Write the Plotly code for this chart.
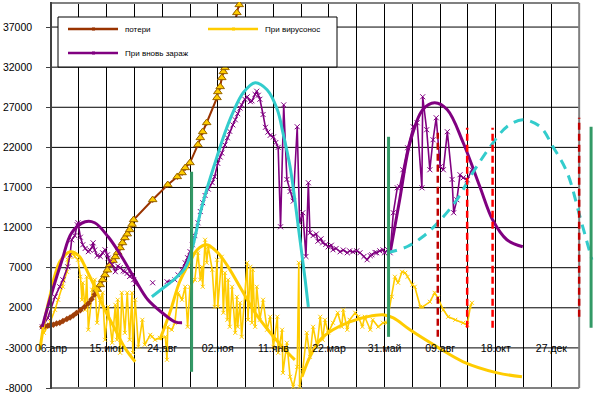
import plotly.graph_objects as go

# ---------------- data (day offset from 06.04.2020, value) ----------------
x_tick_days = list(range(0, 631, 35))
x_tick_labels = ["06.апр", "", "15.июн", "", "24.авг", "", "02.ноя", "", "11.янв", "",
                 "22.мар", "", "31.май", "", "09.авг", "", "18.окт", "", "27.дек"]
y_tick_vals = [-8000, -3000, 2000, 7000, 12000, 17000, 22000, 27000, 32000, 37000]

# потери
loss_day = [-11, -8, -4, -1, 3, 7, 11, 15, 20, 24, 28, 32, 37, 42, 47, 51, 55, 58, 62, 65, 68, 71, 74,
            78, 81, 84, 87, 90, 93, 96, 99, 102, 104, 128, 147, 159, 165, 169, 175, 185, 188, 191, 196,
            209, 210, 213, 215, 217, 219, 224, 229, 234, 237, 240]
loss_val = [-370, -300, -250, -200, -100, 50, 150, 350, 600, 800, 1050, 1350, 1700, 2100, 2550, 3050,
            3650, 4300, 4870, 5500, 6110, 6700, 7360, 7900, 8360, 8900, 9480, 10100, 10730, 11200, 11730,
            12400, 12970, 15470, 17340, 18340, 18830, 19460, 20080, 22330, 23200, 23950, 25070, 28190,
            28930, 29560, 30680, 31430, 31930, 34170, 36050, 38790, 39780, 41000]

# При вирусонос
vir_day = [-9, -1, 5, 9, 15, 20, 21, 24, 28, 30, 34, 37, 39, 40, 43, 45, 47, 52, 55, 58, 62, 65, 68, 72,
           77, 81, 83, 84, 87, 89, 93, 96, 99, 102, 103, 106, 110, 115, 118, 125, 127, 131, 137, 144, 146,
           147, 152, 156, 160, 165, 169, 172, 175, 181, 185, 188, 190, 191, 194, 196, 198, 203, 206, 209,
           210, 215, 217, 219, 222, 223, 225, 228, 232, 234, 235, 238, 240, 247, 248, 251, 253, 254, 257,
           259, 263, 267, 272, 276, 280, 285, 286, 291, 292, 297, 301, 305, 310, 312, 313, 317, 322, 326,
           330, 335, 339, 342, 345, 349, 355, 361, 366, 368, 373, 376, 383, 387, 392, 395, 402, 405, 412,
           418, 423, 429, 433, 437, 442, 446, 449, 455, 458, 465, 468, 477, 483, 487, 494, 500, 509, 519,
           524, 528, 530]
vir_val = [-1120, 250, 1750, 3000, 4620, 6490, 8000, 8360, 8860, 8360, 7990, 5870, 3000, 5120, 1750, 5870,
           -740, 4250, 5490, 130, 3000, 3870, -1990, 2120, -2360, 2370, -1990, 3000, -3610, 3870, -1120,
           3870, -1990, 3870, -3610, 3000, -2860, 500, -2600, -1370, -1620, -1990, -1740, -1620, -4480,
           -370, -740, 130, 3870, 3000, 4620, -370, 4620, 5490, 8860, 5490, 7110, 4620, 10480, 7610, 9610,
           6740, 2120, 7990, 2120, 8360, 1380, 6360, 500, 5490, -370, 4620, -1120, 3370, -370, 2620, -1620,
           7610, 500, 7110, 130, 6740, -370, 4620, 500, 3000, -740, 880, -2860, 880, -3610, -740, -6110,
           -2360, -6600, -7850, -5360, 7610, -7850, -5730, -1120, -4110, -370, -2860, 880, -1990, 500,
           -1120, 130, 1380, -370, 1750, -740, 500, 1380, 880, -370, 880, -740, 500, -370, 130, 130, 3370,
           5870, 5120, 6490, 6360, 5870, 4870, 4620, 2120, 2120, 2750, 3870, 3250, 1750, 880, 500, 130,
           -120, 2120, 2620]

# При вновь зараж
inf_day = [-11, -4, 5, 11, 15, 21, 24, 26, 30, 33, 34, 37, 40, 43, 47, 49, 52, 53, 55, 58, 62, 65, 68, 71,
           72, 74, 77, 81, 84, 87, 91, 93, 96, 99, 102, 104, 106, None, 128, None, 146, 156, 160, 165, 169,
           172, 175, 178, 181, 185, 188, 191, 194, 198, 203, 206, 210, 213, 215, 219, 222, 225, 229, 232,
           235, 238, 240, 244, 247, 251, 253, 257, 259, 261, 263, 267, 270, 273, 276, 280, 283, 286, 289,
           293, 297, 301, 305, 310, 313, 317, 321, 324, 326, 330, 334, 336, 340, 342, 346, 349, 353, 355,
           359, 364, 368, 373, 376, 380, 385, 389, 394, 398, 402, 404, 408, 410, 414, 418, 420, 424, 427,
           431, 436, 439, 443, 449, 456, 461, 467, 468, 473, 477, 481, 485, 490, 494, 499, 505, 507, 511,
           515, 519, 524, 530]
inf_val = [-370, 750, 3370, 4620, 5490, 7110, 8600, 10480, 11000, 12350, 12600, 10800, 9860, 9400, 9000,
           9200, 9600, 10100, 9200, 8500, 8400, 8860, 9230, 8600, 8200, 7700, 7400, 6500, 7200, 7000, 6600,
           6500, 6300, 5900, 6100, 5500, 5000, None, 5120, None, 5250, 5490, 6100, 6740, 7600, 8240, 9000,
           9860, 11000, 12600, 14000, 15100, 16000, 16800, 17600, 18340, 20000, 20800, 21300, 22300, 23200,
           24000, 24800, 25440, 26200, 26900, 27300, 28000, 28300, 27700, 27800, 28600, 29000, 28500,
           28000, 26100, 24500, 23900, 23500, 23300, 22600, 22000, 12100, 27300, 18000, 16500, 15300,
           24570, 12600, 13850, 8400, 17590, 11350, 11000, 11200, 10300, 10600, 10100, 9900, 9600, 9800,
           9230, 9400, 8980, 9200, 8860, 9100, 8980, 9100, 8860, 8400, 7990, 8500, 8610, 8900, 8860, 9100,
           9230, 8860, 9230, 8860, 13850, 16960, 17090, 19210, 21950, 24570, 25070, 16960, 28310, 24200,
           19210, 22950, 25690, 19580, 19210, 23950, 18000, 13850, 15470, 18590, 18210, 17960, 19210]

# smooth fits
inf_fit1_day = [-11, 1, 14, 26, 43, 55, 72, 89, 106, 122, 140, 156, 165]
inf_fit1_val = [-370, 3870, 7990, 11350, 12720, 12600, 10850, 8360, 5490, 3000, 1380, 250, 130]
inf_fit3_day = [427, 439, 452, 468, 483, 499, 519, 540, 556, 574, 594]
inf_fit3_val = [8860, 15470, 22580, 26690, 27560, 26690, 22580, 17090, 12970, 10480, 9610]

vir_fit1_day = [-14, -8, -1, 5, 11, 18, 24, 30, 37, 43, 49, 55, 62, 71, 81, 93, 106]
vir_fit1_val = [-3240, 500, 3620, 6100, 7740, 8610, 8980, 8860, 8240, 7110, 5870, 4620, 3000, 1130,
                -740, -3000, -4730]
vir_fit2_day = [137, 150, 162, 175, 184, 196, 210, 223, 240, 257, 273, 291, 303, 307]
vir_fit2_val = [-2000, 1500, 5240, 7740, 9230, 9860, 8860, 7110, 4250, 1380, -740, -2860, -4110, -4480]
vir_fit3_day = [316, 326, 339, 355, 376, 398, 418, 431, 452, 486, 519, 562, 593]
vir_fit3_val = [-6600, -4110, -1990, -740, 250, 880, 1130, 750, -740, -2860, -4730, -6110, -6600]

cyan_day = [127, 140, 156, 169, 179, 188, 196, 209, 219, 229, 242, 257, 272, 285, 292, 301, 307, 313,
            320, 324]
cyan_val = [3370, 4370, 5620, 6990, 9860, 13850, 16720, 20830, 23820, 26320, 28810, 30060, 29180,
            26690, 23820, 19580, 15470, 10850, 5490, 2120]
cyan_fc_day = [423, 448, 468, 487, 511, 531, 553, 574, 594, 616, 632, 650, 666, 681]
cyan_fc_val = [8860, 9610, 10850, 12600, 15470, 18830, 22080, 24570, 25440, 24570, 22080, 18830,
               13350, 7990]

green_day = [177, 425, 680]
green_lo = [-5980, -1620, -490]
green_hi = [18960, 23320, 24570]
red_day = [487, 524, 556, 665]
red_lo = [-1620, -490, -490, 880]
red_hi = [23820, 24450, 24450, 25690]
red_col = ["#C00000", "#FF0000", "#FF0000", "#C00000"]

# ---------------- colours / layout helpers ----------------
BROWN = "#993300"
YEL = "#FFCC00"
PURP = "#800080"
CYAN = "#33CCCC"
GREEN = "#339966"
FONT = "Liberation Sans, Arial, sans-serif"

W, H = 596, 393
ML, MR, MT, MB = 36, 0, 2, 4
PW, PH = W - ML - MR, H - MT - MB


def px(xp):
    return (xp - ML) / PW


def py(yp):
    return (H - MB - yp) / PH


X0, X1 = -18.9, 686.2
Y0, Y1 = -8124.7, 40124.7
GRID_END = 665

fig = go.Figure()

# yellow noisy
fig.add_trace(go.Scatter(x=vir_day, y=vir_val, mode="lines+markers",
                         line=dict(color=YEL, width=1.6),
                         marker=dict(symbol="x-thin", size=4, line=dict(color=YEL, width=1)),
                         showlegend=False))
# brown losses
fig.add_trace(go.Scatter(x=loss_day, y=loss_val, mode="lines+markers",
                         line=dict(color=BROWN, width=2),
                         marker=dict(symbol="diamond", size=5, color="#A0400A"),
                         showlegend=False))
tri_start = 17
fig.add_trace(go.Scatter(x=loss_day[tri_start:], y=loss_val[tri_start:], mode="markers",
                         marker=dict(symbol="triangle-up", size=7.5, color=YEL,
                                     line=dict(color="#996600", width=1)),
                         showlegend=False))
# purple noisy
fig.add_trace(go.Scatter(x=inf_day, y=inf_val, mode="lines+markers",
                         line=dict(color=PURP, width=1.6),
                         marker=dict(symbol="x-thin", size=5, line=dict(color=PURP, width=1)),
                         connectgaps=False, showlegend=False))
# fits
for d, v, c in [(vir_fit1_day, vir_fit1_val, YEL), (vir_fit2_day, vir_fit2_val, YEL),
                (vir_fit3_day, vir_fit3_val, YEL), (inf_fit1_day, inf_fit1_val, PURP),
                (inf_fit3_day, inf_fit3_val, PURP)]:
    fig.add_trace(go.Scatter(x=d, y=v, mode="lines", line=dict(color=c, width=3, shape="spline"),
                             showlegend=False))
fig.add_trace(go.Scatter(x=cyan_day, y=cyan_val, mode="lines",
                         line=dict(color=CYAN, width=3, shape="spline"), showlegend=False))
fig.add_trace(go.Scatter(x=cyan_fc_day, y=cyan_fc_val, mode="lines",
                         line=dict(color=CYAN, width=3, shape="spline", dash="10px,7px"),
                         showlegend=False))
# vertical markers
for d, lo, hi in zip(green_day, green_lo, green_hi):
    fig.add_trace(go.Scatter(x=[d, d], y=[lo, hi], mode="lines", line=dict(color=GREEN, width=3),
                             showlegend=False))
for d, lo, hi, c in zip(red_day, red_lo, red_hi, red_col):
    fig.add_trace(go.Scatter(x=[d, d], y=[lo, hi], mode="lines",
                             line=dict(color=c, width=2.5, dash="7px,4px"), showlegend=False))

shapes = []
for v in y_tick_vals[1:]:
    shapes.append(dict(type="line", xref="x", yref="y", x0=0, x1=GRID_END, y0=v, y1=v,
                       line=dict(color="black", width=1), layer="between"))
# plot border (grey)
for (a0, b0, a1, b1) in [(0, -8000, GRID_END, -8000), (0, 40000, GRID_END, 40000),
                         (GRID_END, -8000, GRID_END, 40000)]:
    shapes.append(dict(type="line", xref="x", yref="y", x0=a0, y0=b0, x1=a1, y1=b1,
                       line=dict(color="#808080", width=2), layer="between"))
# legend box
shapes.append(dict(type="rect", xref="paper", yref="paper", x0=px(58), x1=px(337), y0=py(67), y1=py(17),
                   fillcolor="white", line=dict(color="black", width=1), layer="above"))
leg = [("потери", BROWN, 68, 29), ("При вирусонос", YEL, 208, 29), ("При вновь зараж", PURP, 68, 53)]
annotations = []
for name, col, lx, ly in leg:
    shapes.append(dict(type="line", xref="paper", yref="paper", x0=px(lx), x1=px(lx + 50),
                       y0=py(ly), y1=py(ly), line=dict(color=col, width=2.5), layer="above"))
    shapes.append(dict(type="rect", xref="paper", yref="paper", x0=px(lx + 24), x1=px(lx + 27),
                       y0=py(ly + 1.5), y1=py(ly - 1.5), fillcolor=col, line=dict(width=0),
                       layer="above"))
    annotations.append(dict(text=name, xref="paper", yref="paper", x=px(lx + 55), y=py(ly),
                            xanchor="left", yanchor="middle", showarrow=False,
                            font=dict(family=FONT, size=8, color="black")))

fig.update_layout(
    width=W, height=H, autosize=False,
    margin=dict(l=ML, r=MR, t=MT, b=MB, pad=0),
    paper_bgcolor="white", plot_bgcolor="white",
    showlegend=False,
    font=dict(family=FONT, size=10.5, color="black"),
    shapes=shapes, annotations=annotations,
    xaxis=dict(range=[X0, X1], tickmode="array", tickvals=x_tick_days, ticktext=x_tick_labels,
               showgrid=True, gridcolor="black", gridwidth=1, zeroline=False, showline=False,
               ticks="", anchor="free", position=py(340), automargin=False,
               tickfont=dict(family=FONT, size=10.5, color="black")),
    yaxis=dict(range=[Y0, Y1], tickmode="array", tickvals=y_tick_vals,
               ticktext=[str(v) for v in y_tick_vals], showgrid=False, zeroline=False,
               showline=True, linecolor="#404040", linewidth=1.5, ticks="outside", ticklen=4,
               tickcolor="#404040", anchor="free", position=px(51), automargin=False,
               ticklabelstandoff=12, ticklabeloverflow="allow",
               tickfont=dict(family=FONT, size=10.5, color="black")),
)

fig.write_html("out.html", config={"displayModeBar": False},
               post_script="document.body.style.margin='0px';")
